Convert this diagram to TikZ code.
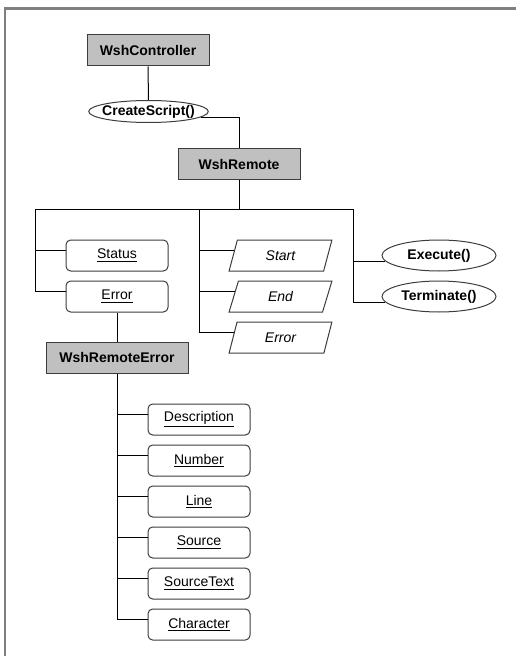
\documentclass[tikz,border=0pt]{standalone}
\usepackage{fontspec}
\setmainfont{Liberation Sans}
\usetikzlibrary{shapes.geometric}

\definecolor{kastengrau}{RGB}{192,192,192}
\definecolor{rahmengrau}{RGB}{128,128,128}
\definecolor{kantengrau}{RGB}{60,60,60}

\begin{document}
\fontsize{10.5}{12}\selectfont
\begin{tikzpicture}[x=0.75pt, y=-0.75pt, line width=0.75pt,
    objekt/.style={draw=kantengrau, fill=kastengrau, font=\bfseries,
        minimum width={122*0.75pt}, minimum height={31*0.75pt}},
    methode/.style={draw=kantengrau, ellipse, inner sep=0pt, font=\bfseries,
        minimum width={114*0.75pt}, minimum height={31*0.75pt}},
    eigenschaft/.style={draw=kantengrau, rounded corners=3.5pt,
        minimum width={102*0.75pt}, minimum height={31*0.75pt}},
    ereignis/.style={draw=kantengrau, trapezium, trapezium left angle=79,
        trapezium right angle=101, trapezium stretches=true, font=\itshape,
        minimum width={103*0.75pt}, minimum height={31*0.75pt}}]

    \useasboundingbox (0,0) rectangle (516,656);

    % Rahmen (nur oben und links sichtbar)
    \draw[rahmengrau, line width=1.9pt] (5,656) -- (5,8.7) -- (516,8.7);

    % Controller und CreateScript()
    \node[objekt] (ctrl) at (148,50.5) {WshController};
    \node[methode, inner xsep=-3pt, minimum width={119*0.75pt},
        minimum height={22*0.75pt}] (create) at (148.5,111.5) {CreateScript()};
    \draw (ctrl.south) -- (create.north);

    % WshRemote
    \node[objekt] (remote) at (239,164) {WshRemote};
    \draw (create.-6) -| (remote.north);

    % Verteiler unter WshRemote
    \coordinate (busL) at (35,209);
    \coordinate (busM) at (199,209);
    \coordinate (busR) at (353,209);
    \draw (busL) -- (busR);
    \draw (remote.south) -- (remote.south |- busL);

    % Eigenschaften links
    \node[eigenschaft] (status) at (117,255.5) {\underline{Status}};
    \node[eigenschaft] (error) at (117,296.5) {\underline{Error}};
    \draw (busL) |- (error.174);
    \draw (busL |- status.174) -- (status.174);

    % Ereignisse in der Mitte
    \node[ereignis] (start) at (280.5,255.5) {Start};
    \node[ereignis] (end) at (280.5,296.5) {End};
    \node[ereignis] (evterr) at (280.5,337.5) {Error};
    \draw (busM) |- (evterr.174);
    \draw (busM |- start.174) -- (start.174);
    \draw (busM |- end.174) -- (end.174);

    % Methoden rechts
    \node[methode] (execute) at (439,255.5) {Execute()};
    \node[methode] (terminate) at (439,296.5) {Terminate()};
    \draw (busR) |- (terminate.186);
    \draw (busR |- execute.186) -- (execute.186);

    % WshRemoteError mit seinen Eigenschaften
    \node[objekt, minimum width={142*0.75pt}] (rerr) at (117,357.5) {WshRemoteError};
    \draw (error.south) -- (rerr.north);

    \foreach \name/\txt [count=\i] in {desc/Description, num/Number, line/Line,
        src/Source, srctext/SourceText, char/Character}
    {
        \node[eigenschaft] (\name) at (199,{378.5+41*\i}) {\underline{\txt}};
        \draw (rerr.south |- \name.174) -- (\name.174);
    }
    \draw (rerr.south) -- (rerr.south |- char.174);

\end{tikzpicture}
\end{document}
